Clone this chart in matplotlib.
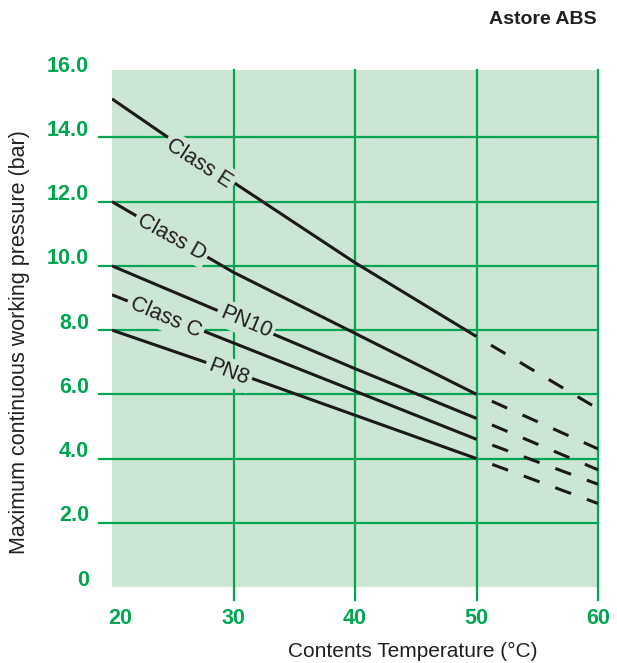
import matplotlib
matplotlib.use("Agg")
import matplotlib.pyplot as plt

# Data (bar vs degC)
temps = [20, 30, 40, 50, 60]
class_e = [15.2, 12.6, 10.1, 7.8, 5.55]
class_d = [12.0, 9.8, 7.9, 6.0, 4.3]
pn10 = [10.0, 8.4, 6.8, 5.25, 3.65]
class_c = [9.1, 7.6, 6.1, 4.6, 3.2]
pn8 = [8.0, 6.7, 5.35, 4.0, 2.6]

series = [("Class E", class_e), ("Class D", class_d), ("PN10", pn10),
          ("Class C", class_c), ("PN8", pn8)]

y_ticks = [0, 2, 4, 6, 8, 10, 12, 14, 16]
y_tick_labels = ["0", "2.0", "4.0", "6.0", "8.0", "10.0", "12.0", "14.0", "16.0"]
x_ticks = [20, 30, 40, 50, 60]

# label placement (x, y, rotation)
label_pos = {
    "Class E": (27.2, 13.2, -33),
    "Class D": (24.9, 10.9, -29),
    "PN10": (31.0, 8.25, -23),
    "Class C": (24.4, 8.4, -23),
    "PN8": (29.6, 6.7, -21),
}

BG = "#cce5d4"
GREEN = "#00a651"

plt.rcParams["font.family"] = ["Liberation Sans", "DejaVu Sans"]

W, H = 617, 663
fig = plt.figure(figsize=(W / 100, H / 100), dpi=100)
ax = fig.add_axes([112 / W, 1 - 587 / H, (598 - 112) / W, (587 - 70) / H])
ax.set_facecolor(BG)
ax.set_xlim(20, 60)
ax.set_ylim(0, 16.1)
for s in ax.spines.values():
    s.set_visible(False)
ax.set_xticks([])
ax.set_yticks([])

# grid lines (drawn by hand, they run outside the shaded box)
for v in [2, 4, 6, 8, 10, 12, 14]:
    ax.plot([18.93, 60], [v, v], color=GREEN, lw=1.6, clip_on=False, zorder=1)
for t in [30, 40, 50, 60]:
    ax.plot([t, t], [-0.4, 16.1], color=GREEN, lw=1.6, clip_on=False, zorder=1)

# pressure lines: solid up to 50 degC, dashed beyond
for name, vals in series:
    ax.plot(temps[:4], vals[:4], color="#1a1a1a", lw=2.2, zorder=2,
            solid_capstyle="butt")
    ax.plot(temps[3:], vals[3:], color="#1a1a1a", lw=2.2, zorder=2,
            linestyle=(5.5, (5.5, 5.5)), dash_capstyle="butt")
    lx, ly, rot = label_pos[name]
    ax.text(lx, ly, name, rotation=rot, ha="center", va="center",
            fontsize=15.5, color="#231f20", zorder=3,
            rotation_mode="anchor",
            bbox=dict(facecolor=BG, edgecolor="none", pad=2.5))

# tick labels
for v, lab in zip(y_ticks, y_tick_labels):
    ax.annotate(lab, xy=(0, v), xycoords=("axes fraction", "data"),
                xytext=(-16.5, 5), textcoords="offset points",
                ha="right", va="center", fontsize=15.5, fontweight="bold",
                color=GREEN, annotation_clip=False)
for t in x_ticks:
    dx = 6 if t == 20 else 0
    ax.annotate(str(t), xy=(t, 0), xycoords=("data", "axes fraction"),
                xytext=(dx, -22.5), textcoords="offset points",
                ha="center", va="center", fontsize=15.5, fontweight="bold",
                color=GREEN, annotation_clip=False)

fig.text(413 / W, 1 - 651 / H, "Contents Temperature (\u00b0C)",
         ha="center", va="center", fontsize=15, color="#231f20")
fig.text(20 / W, 1 - 342 / H, "Maximum continuous working pressure (bar)",
         ha="center", va="center", rotation=90, fontsize=15.5, color="#231f20")
fig.text(597 / W, 1 - 20 / H, "Astore ABS", ha="right", va="center",
         fontsize=14, fontweight="bold", color="#231f20")

fig.savefig("out.png", dpi=100)
